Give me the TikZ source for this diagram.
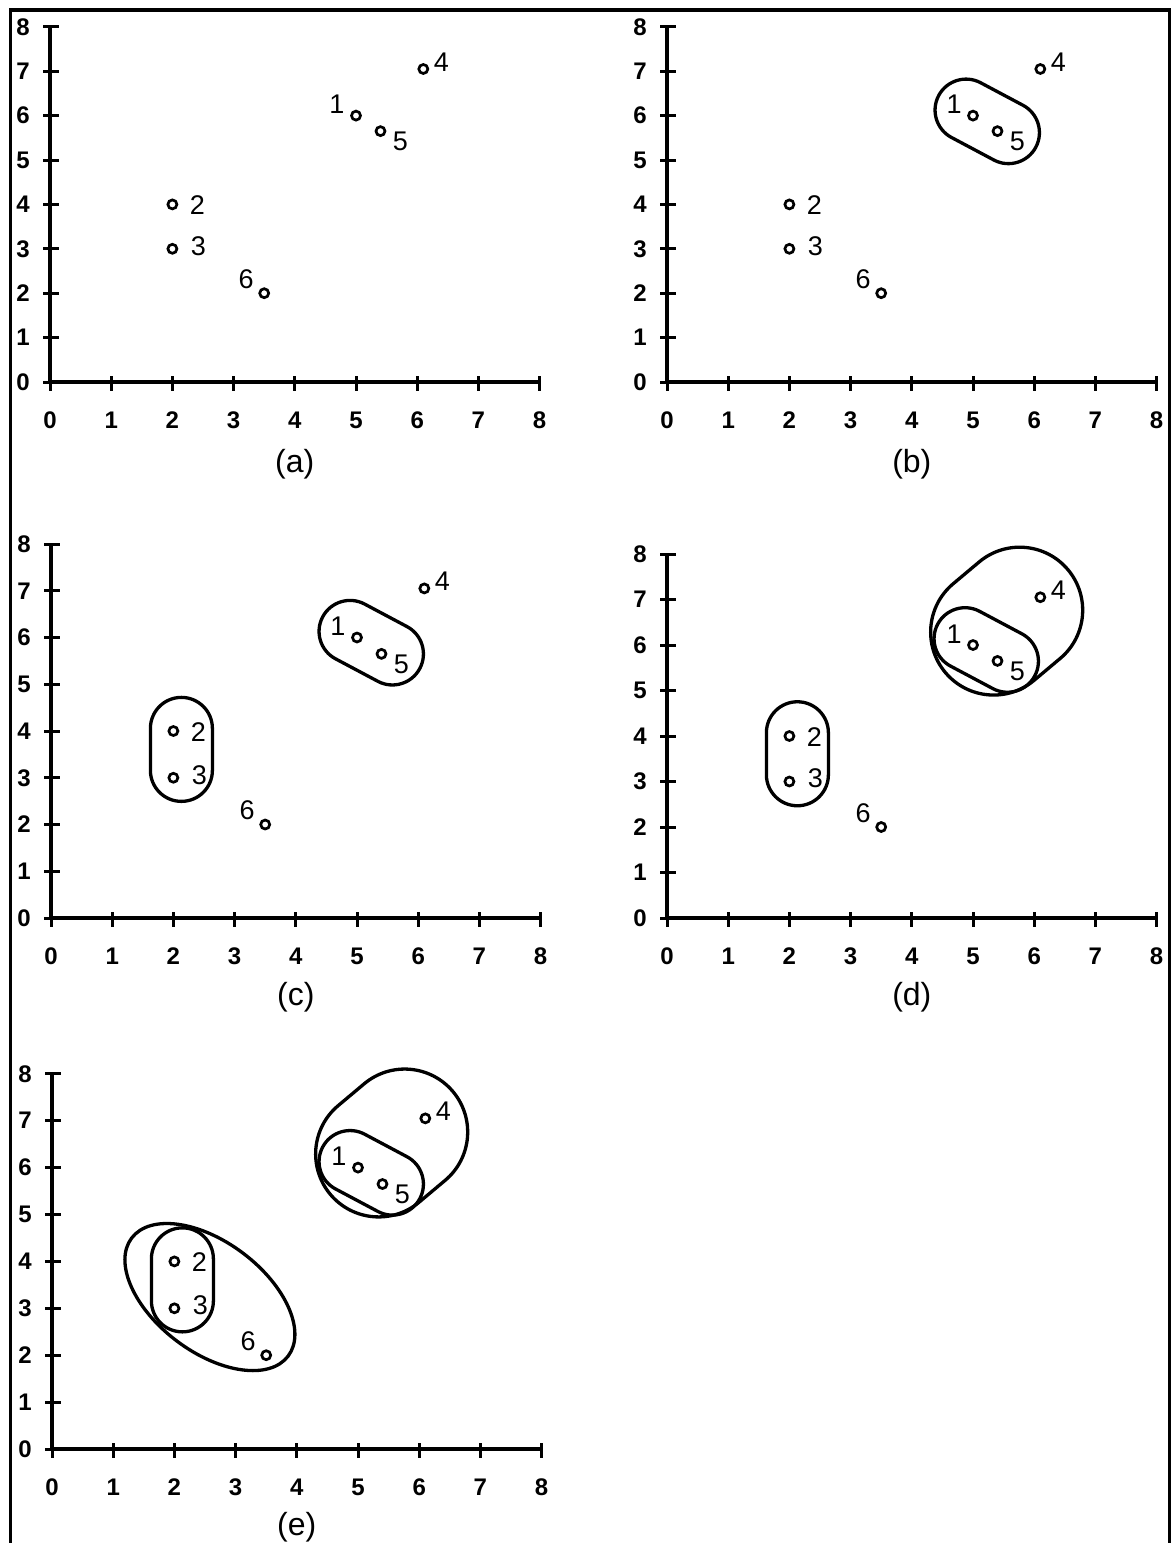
\documentclass[tikz,border=0pt]{standalone}
\usepackage{fontspec}
\setmainfont{Liberation Sans}
\usetikzlibrary{shapes.geometric}
\newcommand\drawaxes[1]{%
  \draw[axisline] (0,8) -- (0,0) -- (8,0);
  \foreach \i in {0,...,8}{
    \draw[tickline] (0,\i) ++(-7pt,0pt) -- ++(16pt,0pt);
    \draw[tickline] (\i,0) ++(0pt,6pt) -- ++(0pt,-15pt);
    \node[ticklab] (#1y\i) at ([xshift=-27pt]0,\i) {\i};
    \node[ticklab] (#1x\i) at ([yshift=-38pt]\i,0) {\i};
  }
}
\newcommand\drawpoints[1]{%
  \node[datapt] (#1p1) at (5,6) {};
  \node[datapt] (#1p5) at (5.4,5.65) {};
  \node[datapt] (#1p4) at (6.1,7.05) {};
  \node[datapt] (#1p2) at (2,4) {};
  \node[datapt] (#1p3) at (2,3) {};
  \node[datapt] (#1p6) at (3.5,2) {};
  \node[plab] (#1l1) at ([xshift=-19pt,yshift=11pt]#1p1) {1};
  \node[plab] (#1l5) at ([xshift=20pt,yshift=-10pt]#1p5) {5};
  \node[plab] (#1l4) at ([xshift=18pt,yshift=7pt]#1p4) {4};
  \node[plab] (#1l2) at ([xshift=25pt,yshift=-1pt]#1p2) {2};
  \node[plab] (#1l3) at ([xshift=26pt,yshift=3pt]#1p3) {3};
  \node[plab] (#1l6) at ([xshift=-18pt,yshift=14pt]#1p6) {6};
}
\begin{document}
\begin{tikzpicture}[x=1pt,y=-1pt,
  axisline/.style={line width=3.3pt},
  tickline/.style={line width=3pt},
  ticklab/.style={font=\fontsize{24}{24}\selectfont\bfseries, inner sep=0pt},
  captext/.style={font=\fontsize{32}{32}\selectfont, inner sep=0pt},
  datapt/.style={draw, circle, line width=2.7pt, minimum size=9pt, inner sep=0pt},
  plab/.style={font=\fontsize{27}{27}\selectfont, inner sep=0pt},
  stad/.style={draw, rectangle, line width=3.3pt, inner sep=0pt},
  pair15/.style={stad, minimum width=110pt, minimum height=62pt, rounded corners=31pt, rotate=-28},
  pair23/.style={stad, minimum width=62pt, minimum height=104pt, rounded corners=31pt},
  trio/.style={stad, minimum width=160pt, minimum height=126pt, rounded corners=63pt, rotate=40},
  bigell/.style={draw, ellipse, line width=3.3pt, inner sep=0pt, minimum width=196pt, minimum height=110pt, rotate=-37},
  framel/.style={line width=3.3pt}
]
\useasboundingbox (0,0) rectangle (1172,1543);
\fill[white] (0,0) rectangle (1172,1543);
\draw[framel] (10.5,1550) -- (10.5,10) -- (1169.5,10) -- (1169.5,1550);

% (a)
\begin{scope}[shift={(50,382)}, x=61.2pt, y=44.4pt]
  \drawaxes{a}
  \drawpoints{a}
  \node[captext] (acap) at ([yshift=-82pt]4,0) {(a)};
\end{scope}

% (b)
\begin{scope}[shift={(667,382)}, x=61.2pt, y=44.4pt]
  \drawaxes{b}
  \drawpoints{b}
  \node[pair15] (b15) at ([xshift=2pt,yshift=2pt]5.2,5.825) {};
  \node[captext] (bcap) at ([yshift=-82pt]4,0) {(b)};
\end{scope}

% (c)
\begin{scope}[shift={(51,918)}, x=61.2pt, y=46.75pt]
  \drawaxes{c}
  \drawpoints{c}
  \node[pair15] (c15) at ([xshift=2pt,yshift=3pt]5.2,5.825) {};
  \node[pair23] (c23) at ([xshift=8pt,yshift=5pt]2,3.5) {};
  \node[captext] (ccap) at ([yshift=-79pt]4,0) {(c)};
\end{scope}

% (d)
\begin{scope}[shift={(667,918)}, x=61.2pt, y=45.5pt]
  \drawaxes{d}
  \drawpoints{d}
  \node[pair15] (d15) at ([xshift=1pt,yshift=3pt]5.2,5.825) {};
  \node[trio] (d154) at (5.55,6.525) {};
  \node[pair23] (d23) at ([xshift=8pt,yshift=5pt]2,3.5) {};
  \node[captext] (dcap) at ([yshift=-79pt]4,0) {(d)};
\end{scope}

% (e)
\begin{scope}[shift={(52,1449)}, x=61.2pt, y=46.9pt]
  \drawaxes{e}
  \drawpoints{e}
  \node[pair15] (e15) at ([xshift=1pt,yshift=3pt]5.2,5.825) {};
  \node[trio] (e154) at (5.55,6.525) {};
  \node[pair23] (e23) at ([xshift=8pt,yshift=5pt]2,3.5) {};
  \node[bigell] (e236) at (2.58,3.24) {};
  \node[captext] (ecap) at ([yshift=-78pt]4,0) {(e)};
\end{scope}
\end{tikzpicture}
\end{document}
